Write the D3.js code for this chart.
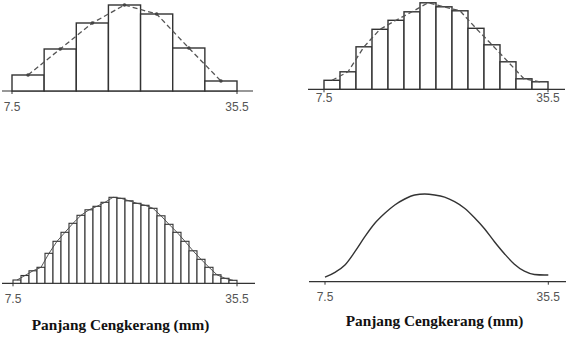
<!DOCTYPE html>
<html>
<head>
<meta charset="utf-8">
<script src="https://cdn.jsdelivr.net/npm/d3@7"></script>
<style>
  html, body { margin: 0; padding: 0; background: #fff; }
  svg { display: block; }
</style>
</head>
<body>
<svg id="chart" width="576" height="345"></svg>
<script>
// ---- data ----
const xDomain = [7.5, 35.5];
const tickLabels = ["7.5", "35.5"];
const axisTitle = "Panjang Cengkerang (mm)";

// frequencies (relative units) for each class width
const freq4 = [16, 42, 68, 86, 77, 43, 10];                 // class width 4 mm
const freq2 = [9, 17.5, 42.5, 60, 69, 77.5, 86.5, 82.5, 78.5, 61, 44.5, 27.5, 10.5, 7.5]; // class width 2 mm
const freq1 = [3.3, 7.8, 12.5, 16, 30, 42, 51, 60, 68, 73.5, 77, 81, 86, 85,
               82.5, 80, 78, 75, 67.5, 59, 51, 42, 32.5, 24, 16, 8.5, 5, 3]; // class width 1 mm
// smooth distribution curve
const curveX = [7.5, 8.75, 10, 11.25, 12.5, 13.75, 15, 16.25, 17.5, 18.75, 20, 21.25,
                22.5, 23.75, 25, 26.25, 27.5, 28.75, 30, 31.25, 32.5, 33.75, 35, 35.5];
const curveY = [4.5, 9.4, 16.7, 30, 45, 58.4, 68.4, 76.7, 82.7, 86.7, 87.7, 86.7,
                84.5, 80, 73.5, 64, 53, 40, 28, 17.5, 10.5, 7.2, 6.7, 6.7];

// ---- layout ----
const svg = d3.select("#chart");
const ink = "#333";

const panels = [
  { freq: freq4, range: [12, 237], base: 91, axis: [2, 253], labelY: 111, poly: "dashdot", title: null },
  { freq: freq2, range: [324, 548], base: 89.3, axis: [308, 565], labelY: 102, poly: "dash", title: null },
  { freq: freq1, range: [13, 237], base: 283.3, axis: [2, 255], labelY: 303, poly: "solid", title: { x: 120.5, y: 330 } },
  { freq: null, range: [325, 548.3], base: 281.7, axis: [309, 566], labelY: 301, poly: null, title: { x: 434.5, y: 326 } }
];

panels.forEach(p => {
  const g = svg.append("g");
  const x = d3.scaleLinear().domain(xDomain).range(p.range);
  const y = d3.scaleLinear().domain([0, 90]).range([p.base, p.base - 90]);

  // axis line
  g.append("line")
    .attr("x1", p.axis[0]).attr("x2", p.axis[1])
    .attr("y1", p.base).attr("y2", p.base)
    .attr("stroke", ink).attr("stroke-width", 1.2);

  // ticks at ends
  xDomain.forEach((v, i) => {
    g.append("line")
      .attr("x1", x(v)).attr("x2", x(v))
      .attr("y1", p.base).attr("y2", p.base + 3)
      .attr("stroke", ink).attr("stroke-width", 1);
    g.append("text")
      .attr("x", x(v)).attr("y", p.labelY)
      .attr("text-anchor", "middle")
      .attr("font-family", "Liberation Sans, Arial, sans-serif")
      .attr("font-size", 12)
      .attr("fill", "#555")
      .text(tickLabels[i]);
  });

  if (p.freq) {
    const w = (xDomain[1] - xDomain[0]) / p.freq.length;
    const bins = p.freq.map((f, i) => ({ x0: xDomain[0] + i * w, x1: xDomain[0] + (i + 1) * w, f }));
    g.selectAll("rect.bar").data(bins).join("rect")
      .attr("class", "bar")
      .attr("x", d => x(d.x0))
      .attr("width", d => x(d.x1) - x(d.x0))
      .attr("y", d => y(d.f))
      .attr("height", d => y(0) - y(d.f))
      .attr("fill", "#fff")
      .attr("stroke", ink)
      .attr("stroke-width", p.freq.length > 20 ? 1.1 : 1.4);

    const line = d3.line().x(d => x((d.x0 + d.x1) / 2)).y(d => y(d.f));
    const path = g.append("path").datum(bins)
      .attr("d", line)
      .attr("fill", "none")
      .attr("stroke", p.poly === "solid" ? "#444" : "#555")
      .attr("stroke-width", p.poly === "solid" ? 0.9 : 1.3);
    if (p.poly !== "solid") path.attr("stroke-dasharray", "5,3");
    if (p.poly === "dashdot") {
      g.selectAll("circle.pt").data(bins).join("circle")
        .attr("class", "pt")
        .attr("cx", d => x((d.x0 + d.x1) / 2))
        .attr("cy", d => y(d.f))
        .attr("r", 1.8)
        .attr("fill", "#444");
    }
  } else {
    const pts = curveX.map((v, i) => [v, curveY[i]]);
    g.append("path").datum(pts)
      .attr("d", d3.line().x(d => x(d[0])).y(d => y(d[1])).curve(d3.curveMonotoneX))
      .attr("fill", "none")
      .attr("stroke", ink)
      .attr("stroke-width", 1.4);
  }

  if (p.title) {
    g.append("text")
      .attr("x", p.title.x).attr("y", p.title.y)
      .attr("text-anchor", "middle")
      .attr("font-family", "Liberation Serif, Times New Roman, serif")
      .attr("font-weight", "bold")
      .attr("font-size", 15.3)
      .attr("fill", "#111")
      .text(axisTitle);
  }
});
</script>
</body>
</html>
